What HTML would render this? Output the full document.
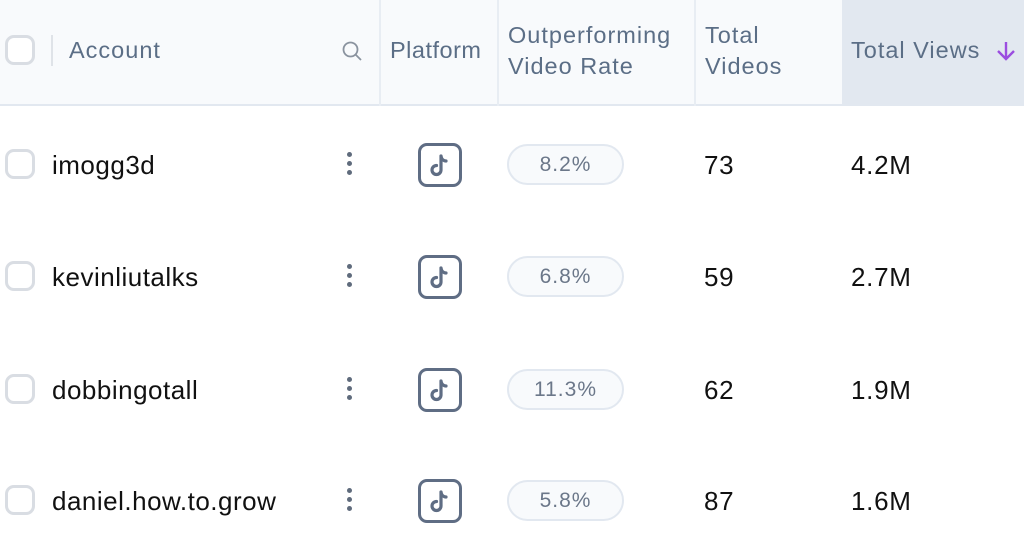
<!DOCTYPE html>
<html><head><meta charset="utf-8"><style>
*{box-sizing:border-box;margin:0;padding:0}
body{width:1024px;height:543px;overflow:hidden;background:#fff;font-family:"Liberation Sans",sans-serif;position:relative}
.abs{position:absolute}
.hdr{left:0;top:0;width:1024px;height:106px;background:#f8fafc;border-bottom:2px solid #e2e8f0}
.sorted{left:842px;top:0;width:182px;height:106px;background:#e2e8f0}
.vdiv{top:0;width:2px;height:106px;background:#e8edf3}
.ht{color:#5b6e86;font-size:23.5px;line-height:31px;letter-spacing:1px;white-space:nowrap}
.cb{width:30px;height:30px;border:3px solid #d9dde3;border-radius:9px;background:#fff}
.name{left:52px;font-size:26px;color:#111;line-height:30px;letter-spacing:0.5px}
.dots{left:347px;width:6px}
.dots i{display:block;width:5px;height:5px;border-radius:50%;background:#5f6b7c;margin-bottom:4px}
.tt{left:418px;width:44px;height:44px;border:3px solid #5f6d84;border-radius:9px}
.pill{left:507px;width:117px;height:41px;border:2px solid #e2e8f0;border-radius:21px;background:#f8fafc;color:#6b7789;font-size:21px;text-align:center;line-height:37px;letter-spacing:1px}
.num{font-size:26px;color:#111;line-height:30px;letter-spacing:0.7px}
</style></head><body>
<div class="abs hdr"></div>
<div class="abs sorted"></div>
<div class="abs vdiv" style="left:379px"></div>
<div class="abs vdiv" style="left:497px"></div>
<div class="abs vdiv" style="left:694px"></div>
<div class="abs cb" style="left:5px;top:35px"></div>
<div class="abs" style="left:51px;top:35px;width:2px;height:31px;background:#dfe3e8"></div>
<div class="abs ht" style="left:69px;top:35px">Account</div>
<svg class="abs" style="left:341px;top:40px" width="22" height="22"><circle cx="9.5" cy="9.5" r="7" fill="none" stroke="#8a939f" stroke-width="1.8"/><line x1="14.5" y1="14.5" x2="20" y2="20" stroke="#8a939f" stroke-width="1.8"/></svg>
<div class="abs ht" style="left:390px;top:35px;letter-spacing:0.5px">Platform</div>
<div class="abs ht" style="left:508px;top:20px">Outperforming<br>Video Rate</div>
<div class="abs ht" style="left:705px;top:20px">Total<br>Videos</div>
<div class="abs ht" style="left:851px;top:35px">Total Views</div>
<svg class="abs" style="left:995px;top:39px" width="22" height="24"><path d="M11 3V20M3 12L11 20L19 12" fill="none" stroke="#9b4de0" stroke-width="2.4"/></svg>

<div id="rows"></div>
<script>
const accounts=["imogg3d","kevinliutalks","dobbingotall","daniel.how.to.grow"];
const rates=["8.2%","6.8%","11.3%","5.8%"];
const videos=["73","59","62","87"];
const views=["4.2M","2.7M","1.9M","1.6M"];
const centers=[164,276,389,500];
const root=document.getElementById('rows');
accounts.forEach((a,i)=>{
  const c=centers[i];
  const h=`
  <div class="abs cb" style="left:5px;top:${c-15}px"></div>
  <div class="abs name" style="top:${c-14}px">${a}</div>
  <div class="abs dots" style="top:${c-12}px"><i></i><i></i><i></i></div>
  <div class="abs tt" style="top:${c-21}px"><svg width="38" height="38" style="position:absolute;left:0;top:0"><path d="M20 10V24a4.5 4.5 0 1 1-4.5-4.5M20 10c0.5 3 2.5 5 5 5" fill="none" stroke="#5f6d84" stroke-width="3.2" stroke-linecap="round"/></svg></div>
  <div class="abs pill" style="top:${c-20}px">${rates[i]}</div>
  <div class="abs num" style="left:704px;top:${c-14}px">${videos[i]}</div>
  <div class="abs num" style="left:851px;top:${c-14}px">${views[i]}</div>`;
  root.insertAdjacentHTML('beforeend',h);
});
</script>
</body></html>
